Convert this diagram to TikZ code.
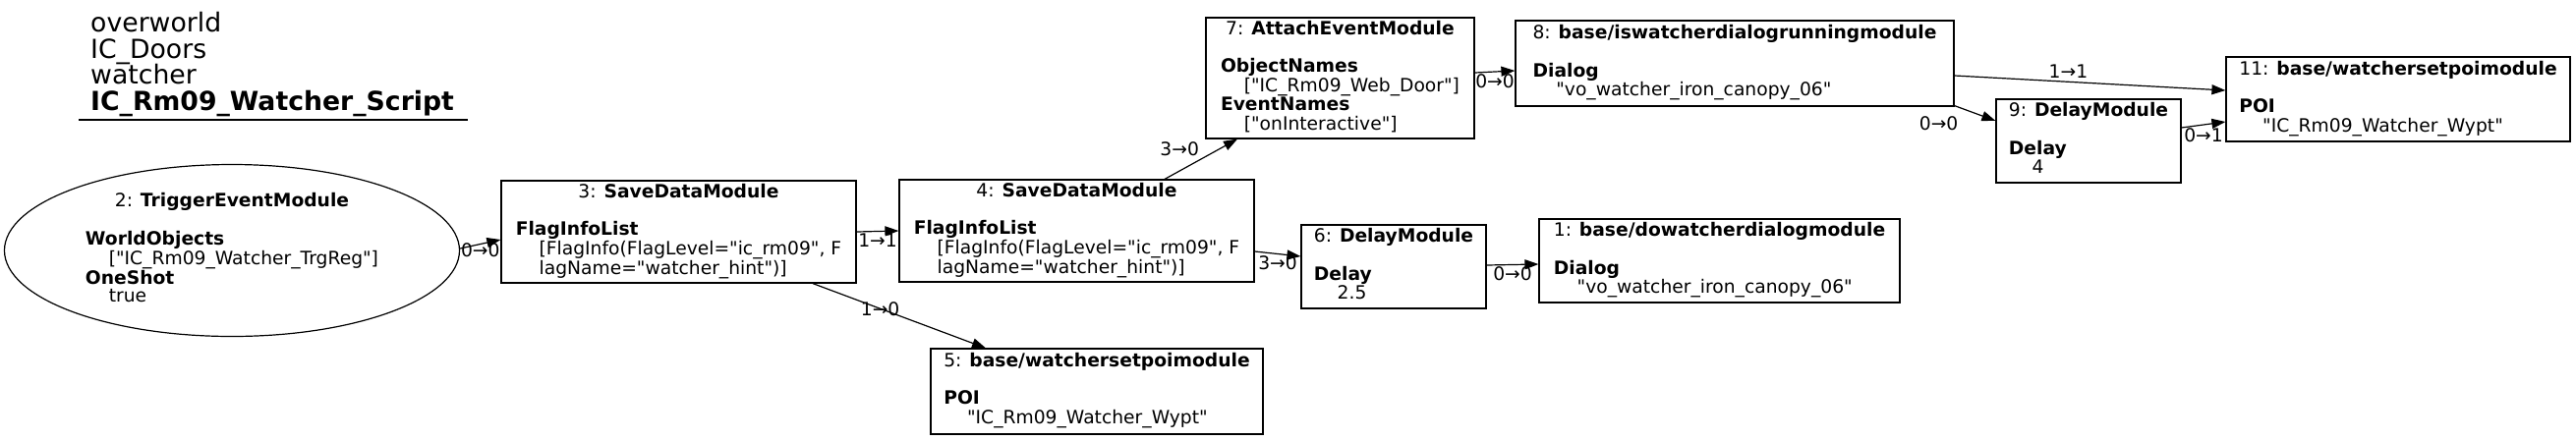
\documentclass[tikz,border=0pt]{standalone}
\usepackage{fontspec}
\setmainfont{DejaVu Sans}[Ligatures=TeXOff]
\usetikzlibrary{positioning,shapes.geometric,arrows.meta}
\tikzset{
  mod/.style={draw,line width=1.2pt,inner sep=0pt,font=\fontsize{18.7}{18.7}\selectfont},
  modbox/.style={mod,rectangle},
  modoval/.style={mod,ellipse},
  edge/.style={line width=1.2pt,-{Triangle[length=14pt,width=10pt]}},
  lbl/.style={inner sep=0pt,font=\fontsize{18.7}{18.7}\selectfont}
}
\newcommand{\valind}{\hspace*{23.8pt}}

\begin{document}
\begin{tikzpicture}[x=1pt,y=-1pt]
\useasboundingbox (0,0) rectangle (2621,448);
\node[anchor=north west,inner sep=0pt,align=left,font=\fontsize{26.7}{26.7}\selectfont] (title) at (92,12) {overworld\\IC\_Doors\\watcher\\\textbf{IC\_Rm09\_Watcher\_Script}};
\draw[line width=1.2pt] (80,122) -- (476,122);

\node[modoval,minimum width=463pt,minimum height=175pt] (n2) at (236,255) {\begin{tabular}{@{}l@{}}\multicolumn{1}{@{}c@{}}{2: \textbf{TriggerEventModule}}\\ \\ \textbf{WorldObjects}\\ \valind["IC\_Rm09\_Watcher\_TrgReg"]\\ \textbf{OneShot}\\ \valind true\end{tabular}};
\node[modbox,minimum width=361pt,minimum height=104pt] (n3) at (690.5,236) {\begin{tabular}{@{}l@{}}\multicolumn{1}{@{}c@{}}{3: \textbf{SaveDataModule}}\\ \\ \textbf{FlagInfoList}\\ \valind[FlagInfo(FlagLevel="ic\_rm09", F\\ \valind lagName="watcher\_hint")]\end{tabular}};
\node[modbox,minimum width=361pt,minimum height=104pt] (n4) at (1095.5,235) {\begin{tabular}{@{}l@{}}\multicolumn{1}{@{}c@{}}{4: \textbf{SaveDataModule}}\\ \\ \textbf{FlagInfoList}\\ \valind[FlagInfo(FlagLevel="ic\_rm09", F\\ \valind lagName="watcher\_hint")]\end{tabular}};
\node[modbox,minimum width=338pt,minimum height=87pt] (n5) at (1116,398.5) {\begin{tabular}{@{}l@{}}\multicolumn{1}{@{}c@{}}{5: \textbf{base/watchersetpoimodule}}\\ \\ \textbf{POI}\\ \valind"IC\_Rm09\_Watcher\_Wypt"\end{tabular}};
\node[modbox,minimum width=188pt,minimum height=85pt] (n6) at (1418,271.5) {\begin{tabular}{@{}l@{}}\multicolumn{1}{@{}c@{}}{6: \textbf{DelayModule}}\\ \\ \textbf{Delay}\\ \valind 2.5\end{tabular}};
\node[modbox,minimum width=367pt,minimum height=85pt] (n1) at (1749.5,265.5) {\begin{tabular}{@{}l@{}}\multicolumn{1}{@{}c@{}}{1: \textbf{base/dowatcherdialogmodule}}\\ \\ \textbf{Dialog}\\ \valind"vo\_watcher\_iron\_canopy\_06"\end{tabular}};
\node[modbox,minimum width=273pt,minimum height=123pt] (n7) at (1363.5,79.5) {\begin{tabular}{@{}l@{}}\multicolumn{1}{@{}c@{}}{7: \textbf{AttachEventModule}}\\ \\ \textbf{ObjectNames}\\ \valind["IC\_Rm09\_Web\_Door"]\\ \textbf{EventNames}\\ \valind["onInteractive"]\end{tabular}};
\node[modbox,minimum width=446pt,minimum height=87pt] (n8) at (1765,64.5) {\begin{tabular}{@{}l@{}}\multicolumn{1}{@{}c@{}}{8: \textbf{base/iswatcherdialogrunningmodule}}\\ \\ \textbf{Dialog}\\ \valind"vo\_watcher\_iron\_canopy\_06"\end{tabular}};
\node[modbox,minimum width=188pt,minimum height=85pt] (n9) at (2125,143.5) {\begin{tabular}{@{}l@{}}\multicolumn{1}{@{}c@{}}{9: \textbf{DelayModule}}\\ \\ \textbf{Delay}\\ \valind 4\end{tabular}};
\node[modbox,minimum width=350pt,minimum height=86pt] (n11) at (2440,101) {\begin{tabular}{@{}l@{}}\multicolumn{1}{@{}c@{}}{11: \textbf{base/watchersetpoimodule}}\\ \\ \textbf{POI}\\ \valind"IC\_Rm09\_Watcher\_Wypt"\end{tabular}};

\draw[edge] ([yshift=2pt]n2.east) -- node[lbl,below=-1pt] {0→0} ([yshift=-8pt]n3.west);
\draw[edge] (n3.east) -- node[lbl,below=2pt] {1→1} (n4.west);
\draw[edge] ([xshift=136.5pt]n3.south) -- node[lbl,pos=0.39] {1→0} ([xshift=-113pt]n5.north);
\draw[edge] ([xshift=89.5pt]n4.north) -- node[lbl,pos=0.75,left=20pt] {3→0} ([xshift=-104.5pt]n7.south);
\draw[edge] ([yshift=-21pt]n4.east) -- node[lbl,below=2pt] {3→0} ([yshift=10.5pt]n6.west);
\draw[edge] ([yshift=5.5pt]n7.east) -- node[lbl,below=2pt] {0→0} ([yshift=-7.5pt]n8.west);
\draw[edge] ([yshift=1.5pt]n6.east) -- node[lbl,below=2pt] {0→0} ([yshift=-3.5pt]n1.west);
\draw[edge] ([yshift=-12.5pt]n8.east) -- node[lbl,pos=0.42,above=3pt] {1→1} ([yshift=9pt]n11.west);
\draw[edge] ([yshift=1pt]n8.south east) -- node[lbl,pos=0.2,below left={7pt and 4pt}] {0→0} ([yshift=20.5pt]n9.west);
\draw[edge] ([yshift=13.5pt]n9.east) -- node[lbl,below=3pt] {0→1} ([yshift=-23pt]n11.west);
\end{tikzpicture}
\end{document}
